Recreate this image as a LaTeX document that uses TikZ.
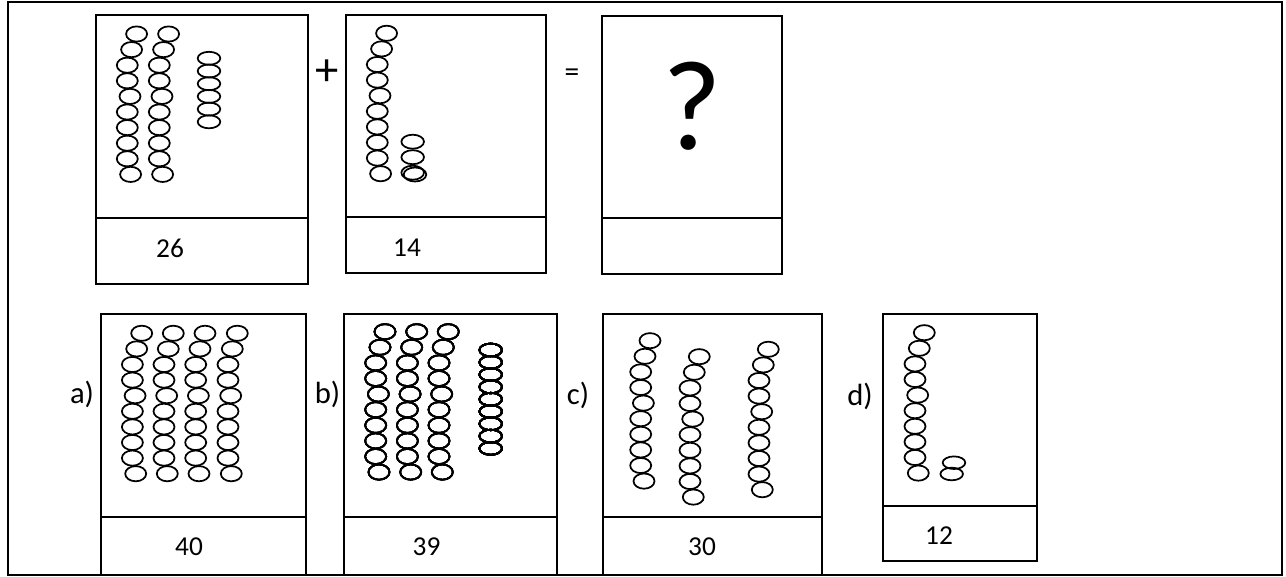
\documentclass[tikz,border=0pt]{standalone}
\usepackage{fontspec}
\setmainfont{Carlito}
\usepackage{tikz}

% one column of ten beads, top bead at (#1+9.3,#2)
\newcommand{\beadcol}[2]{%
  \foreach \dx [count=\i from 0] in {9.3,4.3,0,0,2.7,0,0,0,0,3.3}
    \draw[bead] (#1+\dx,#2+\i*15.6) ellipse [x radius=10.5,y radius=7.6];}

\begin{document}
\begin{tikzpicture}[x=0.75pt,y=-0.75pt,
  bead/.style={line width=1.3pt},
  card/.style={line width=1.3pt},
  numtext/.style={inner sep=0pt,font=\fontsize{20.5}{24}\selectfont},
  opttext/.style={inner sep=0pt,font=\fontsize{23}{27}\selectfont}]
\useasboundingbox (0,0) rectangle (1286,577);
\draw[line width=2.2pt] (8,2) rectangle (1282,575);

% question row
\draw[card] (96,15) rectangle (308,284) (96,218)--(308,218);
\draw[card] (346,15) rectangle (546,273) (346,217)--(546,217);
\draw[card] (602,16) rectangle (782,274) (602,218)--(782,218);
\node[numtext] (n26) at (170,248.5) {26};
\node[numtext] (n14) at (407,247.5) {14};
\node[inner sep=0pt,font=\fontsize{35}{40}\selectfont] (plus) at (327,72.5) {+};
\node[inner sep=0pt,font=\fontsize{22}{26}\selectfont] (eq) at (572,75) {=};
\node[inner sep=0pt,font=\fontsize{96}{100}\selectfont] (ask) at (692,106) {?};
\beadcol{127.3}{34}
\beadcol{159.3}{34}
\foreach \i in {0,...,5}
  \draw[bead] (209,58.3+\i*12.7) ellipse [x radius=11.3,y radius=6.5];
\beadcol{377.3}{33.3}
\foreach \y in {141.7,157.2}
  \draw[bead] (412.7,\y) ellipse [x radius=11.3,y radius=7];
\draw[bead] (412.7,172.7) ellipse [x radius=11.3,y radius=7];
\draw[bead] (415,174.5) ellipse [x radius=11.3,y radius=7];

% answer row
\draw[card] (101,314) rectangle (306,575) (101,517)--(306,517);
\draw[card] (344,314) rectangle (557,575) (344,517)--(557,517);
\draw[card] (603,314) rectangle (822,575) (603,517)--(822,517);
\draw[card] (883,314) rectangle (1037,561) (883,506)--(1037,506);
\node[opttext] (la) at (82,394) {a)};
\node[opttext] (lb) at (327.5,394) {b)};
\node[opttext] (lc) at (578,395) {c)};
\node[opttext] (ld) at (860,396) {d)};
\node[numtext] (n40) at (189,546.5) {40};
\node[numtext] (n39) at (426.5,546.5) {39};
\node[numtext] (n30) at (702,546.5) {30};
\node[numtext] (n12) at (939,535.5) {12};
% a) 40
\foreach \x in {132.4,164,195.7,228}
  \beadcol{\x}{333.3}
% b) 39
\foreach \x in {375.7,407.4,439}
  \beadcol{\x}{331.7}
\foreach \i in {0,...,8}
  \draw[bead] (490.7,350+\i*12.3) ellipse [x radius=11.3,y radius=6.4];
% c) 30
\beadcol{640.7}{340.7}
\beadcol{690}{356.7}
\beadcol{759}{349.3}
% d) 12
\beadcol{915}{332.7}
\draw[bead] (954,462.7) ellipse [x radius=11.3,y radius=6.3];
\draw[bead] (951.7,474) ellipse [x radius=11.3,y radius=6.3];
\end{tikzpicture}
\end{document}
